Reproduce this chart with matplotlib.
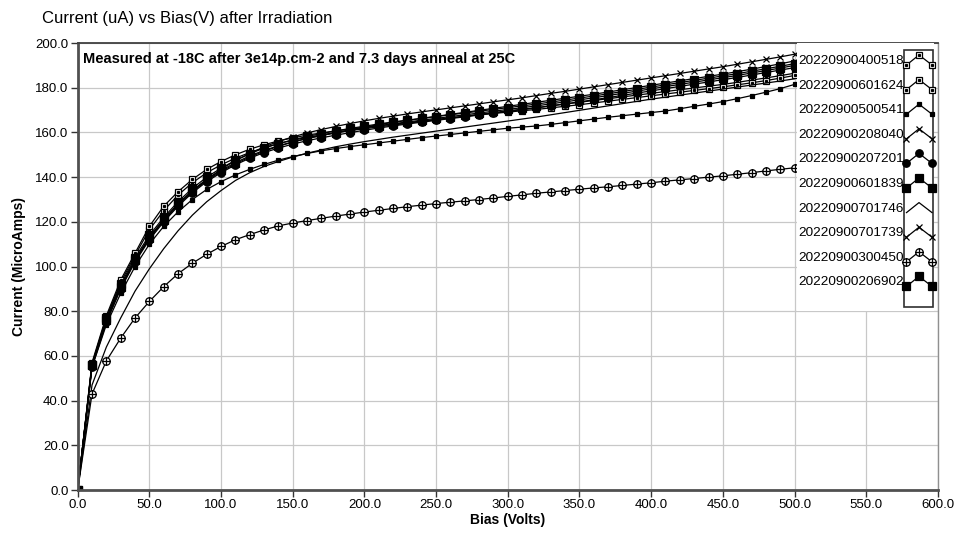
import matplotlib
matplotlib.use("Agg")
from matplotlib import pyplot as plt
from matplotlib.path import Path
from matplotlib.patches import Rectangle

plt.rcParams['font.family'] = ['Liberation Sans', 'DejaVu Sans']

# Bias steps (V), one reading every 10 V
bias = list(range(0, 501, 10))

# Current (uA) per sensor
cur_400518 = [0, 56.5, 77, 93, 105, 116.5, 125, 132, 137.5, 142, 145.5, 148.5, 151, 153.2, 155, 156.5,
              157.8, 158.9, 159.9, 160.8, 161.7, 162.5, 163.3, 164.1, 164.9, 165.7, 166.5, 167.3, 168.1,
              168.9, 169.7, 170.4, 171.1, 171.9, 172.7, 173.5, 174.3, 175.1, 175.9, 176.7, 177.5, 178.3,
              179.1, 179.9, 180.7, 181.5, 182.4, 183.4, 184.4, 185.4, 186.5]
cur_601624 = [0, 57, 78, 94, 106, 118, 127, 133.5, 139, 143.5, 147, 150, 152.5, 154.5, 156.2, 157.6,
              158.8, 159.8, 160.7, 161.5, 162.3, 163, 163.7, 164.4, 165.1, 165.8, 166.5, 167.2, 167.9,
              168.5, 169.1, 169.7, 170.3, 171, 171.7, 172.4, 173.2, 174, 174.8, 175.6, 176.4, 177.2,
              178, 178.8, 179.6, 180.4, 181.3, 182.2, 183.2, 184.3, 185.5]
cur_500541 = [0, 55, 74, 88, 100, 110, 118, 124.5, 130, 134.5, 138, 141, 143.5, 145.7, 147.6, 149.2,
              150.6, 151.8, 152.8, 153.7, 154.5, 155.3, 156.1, 156.9, 157.7, 158.4, 159.1, 159.8, 160.5,
              161.2, 161.9, 162.4, 162.9, 163.6, 164.4, 165.2, 166, 166.8, 167.5, 168.2, 168.9, 169.6,
              170.6, 171.7, 172.7, 173.8, 175.1, 176.5, 178, 179.6, 181.5]
cur_208040 = [0, 56, 76, 91, 103, 113, 121, 128, 134, 139, 143.5, 147.5, 150.5, 153.5, 156, 158,
              159.8, 161.3, 162.7, 164, 165.2, 166.3, 167.3, 168.3, 169.2, 170.1, 171, 171.9, 172.8,
              173.7, 174.6, 175.5, 176.5, 177.5, 178.4, 179.4, 180.4, 181.4, 182.4, 183.4, 184.4, 185.4,
              186.4, 187.4, 188.4, 189.4, 190.5, 191.6, 192.7, 193.8, 195]
cur_207201 = [0, 55, 75, 90, 102, 112, 120, 127, 133, 138, 142, 145.5, 148.5, 151, 153, 154.8,
              156.3, 157.6, 158.8, 159.9, 161, 162, 162.9, 163.8, 164.6, 165.4, 166.2, 167, 167.8,
              168.6, 169.4, 170.2, 171, 171.9, 172.8, 173.7, 174.6, 175.6, 176.6, 177.6, 178.6, 179.6,
              180.6, 181.6, 182.6, 183.6, 184.6, 185.7, 186.8, 187.9, 189]
cur_601839 = [0, 56, 76, 91, 103, 113, 121, 128, 134, 139, 143, 146.5, 149.5, 152, 154, 155.8,
              157.3, 158.6, 159.8, 160.9, 162, 163, 163.9, 164.7, 165.5, 166.3, 167.1, 167.9, 168.7,
              169.5, 170.3, 171.1, 171.9, 172.8, 173.7, 174.6, 175.5, 176.5, 177.5, 178.5, 179.5, 180.5,
              181.5, 182.5, 183.5, 184.5, 185.5, 186.6, 187.7, 188.8, 190]
cur_701746 = [0, 47, 64, 77, 89, 99, 108, 116, 123, 129, 134, 138.5, 142, 144.8, 147, 149,
              150.7, 152.2, 153.6, 154.8, 155.9, 156.9, 157.9, 158.8, 159.7, 160.6, 161.5, 162.4, 163.3,
              164.2, 165.1, 166, 166.9, 167.9, 168.9, 169.9, 170.9, 171.9, 172.9, 173.9, 174.9, 175.8,
              176.7, 177.6, 178.5, 179.4, 180.3, 181.2, 182.1, 183, 184]
cur_701739 = [0, 55.5, 75.5, 90.5, 102.5, 112.5, 120.5, 127.5, 133.5, 138.5, 142.5, 146, 149, 151.6,
              153.8, 155.7, 157.3, 158.7, 160, 161.2, 162.4, 163.5, 164.5, 165.4, 166.3, 167.2, 168.1,
              169, 169.9, 170.8, 171.7, 172.6, 173.5, 174.4, 175.3, 176.2, 177.1, 178.1, 179.1, 180.1,
              181.1, 182.1, 183.1, 184.1, 185.1, 186.1, 187.2, 188.3, 189.5, 190.7, 192]
cur_300450 = [0, 43, 57.8, 68, 77, 84.4, 91, 96.8, 101.5, 105.5, 109, 112, 114.3, 116.4, 118.2, 119.5,
              120.6, 121.6, 122.6, 123.5, 124.4, 125.2, 126, 126.8, 127.5, 128.2, 128.8, 129.4, 130,
              130.7, 131.4, 132.1, 132.8, 133.4, 134, 134.6, 135.2, 135.7, 136.3, 136.9, 137.5, 138.2,
              138.8, 139.4, 140, 140.6, 141.3, 142, 142.8, 143.5, 144.2]
cur_206902 = [0, 56, 77, 92, 104, 114, 122, 129, 135, 140, 144, 147.5, 150.5, 153, 155, 156.7,
              158.2, 159.5, 160.7, 161.8, 162.8, 163.8, 164.7, 165.5, 166.3, 167.1, 167.9, 168.7, 169.5,
              170.3, 171.1, 171.9, 172.7, 173.6, 174.5, 175.4, 176.3, 177.3, 178.3, 179.3, 180.3, 181.3,
              182.3, 183.3, 184.3, 185.3, 186.3, 187.4, 188.5, 189.6, 190.8]

labels = ["20220900400518", "20220900601624", "20220900500541", "20220900208040",
          "20220900207201", "20220900601839", "20220900701746", "20220900701739",
          "20220900300450", "20220900206902"]
currents = [cur_400518, cur_601624, cur_500541, cur_208040, cur_207201,
            cur_601839, cur_701746, cur_701739, cur_300450, cur_206902]

# circle with a cross through it
circ_cross = Path.make_compound_path(
    Path.unit_circle(),
    Path([[-1, 0], [1, 0]], [Path.MOVETO, Path.LINETO]),
    Path([[0, -1], [0, 1]], [Path.MOVETO, Path.LINETO]))

styles = [
    dict(marker="s", ms=3.8, mfc="white", dot=True),
    dict(marker="s", ms=4.8, mfc="white", dot=True),
    dict(marker="s", ms=2.8, mfc="black"),
    dict(marker="x", ms=4.8, mfc="black"),
    dict(marker="o", ms=5.4, mfc="black"),
    dict(marker="s", ms=5.4, mfc="black"),
    dict(marker=None, ms=0, mfc="black"),
    dict(marker="x", ms=3.8, mfc="black"),
    dict(marker=circ_cross, ms=5.4, mfc="white"),
    dict(marker="s", ms=5.4, mfc="black"),
]


def draw_series(ax, x, y, st, clip=True):
    ax.plot(x, y, color="black", lw=0.9, marker=st["marker"], ms=st["ms"],
            mfc=st["mfc"], mec="black", mew=0.9, clip_on=clip)
    if st.get("dot"):
        ax.plot(x, y, ls="none", marker="s", ms=1.3, color="black", clip_on=clip)


fig = plt.figure(figsize=(9.59, 5.38), dpi=100)
ax = fig.add_axes([0.081, 0.089, 0.897, 0.831])

for y, st in zip(currents, styles):
    draw_series(ax, bias, y, st)

ax.set_xlim(0, 600)
ax.set_ylim(0, 200)
ax.set_xticks(range(0, 601, 50))
ax.set_yticks(range(0, 201, 20))
ax.set_xticklabels(["%.1f" % v for v in range(0, 601, 50)])
ax.set_yticklabels(["%.1f" % v for v in range(0, 201, 20)])
ax.tick_params(axis="both", direction="out", length=5, width=1, color="#333333",
               labelsize=9.5, pad=1.5)
ax.grid(True, color="#c8c8c8", linewidth=0.9)
ax.set_axisbelow(True)
ax.spines["left"].set_linewidth(2)
ax.spines["left"].set_color("#505050")
ax.spines["bottom"].set_linewidth(2)
ax.spines["bottom"].set_color("#505050")
ax.spines["top"].set_linewidth(1.3)
ax.spines["top"].set_color("#404040")
ax.spines["right"].set_linewidth(1)
ax.spines["right"].set_color("#909090")

ax.set_xlabel("Bias (Volts)", fontsize=10, fontweight="bold", labelpad=1)
ax.set_ylabel("Current (MicroAmps)", fontsize=10, fontweight="bold", labelpad=7)
ax.text(0.006, 0.965, "Measured at -18C after 3e14p.cm-2 and 7.3 days anneal at 25C",
        transform=ax.transAxes, fontsize=10.5, fontweight="bold", va="center", ha="left")
fig.text(0.044, 0.966, "Current (uA) vs Bias(V) after Irradiation", fontsize=12,
         va="center", ha="left")

# legend panel drawn by hand: labels on the left, sample strip on the right
lg = fig.add_axes([797 / 959, 1 - 311 / 538, 137 / 959, 268 / 538])
lg.set_xlim(797, 934)
lg.set_ylim(311, 43)
lg.set_facecolor("white")
for s in lg.spines.values():
    s.set_visible(False)
lg.set_xticks([])
lg.set_yticks([])
lg.add_patch(Rectangle((904.5, 50), 29, 257, fill=False, edgecolor="#303030", lw=1.2))
for i, (lab, st) in enumerate(zip(labels, styles)):
    yc = 61 + 24.6 * i
    lg.text(903.5, yc, lab, ha="right", va="center", fontsize=9.7)
    draw_series(lg, [906.5, 919, 932], [yc + 4, yc - 6, yc + 4], st, clip=False)

fig.savefig("out.png", dpi=100)
